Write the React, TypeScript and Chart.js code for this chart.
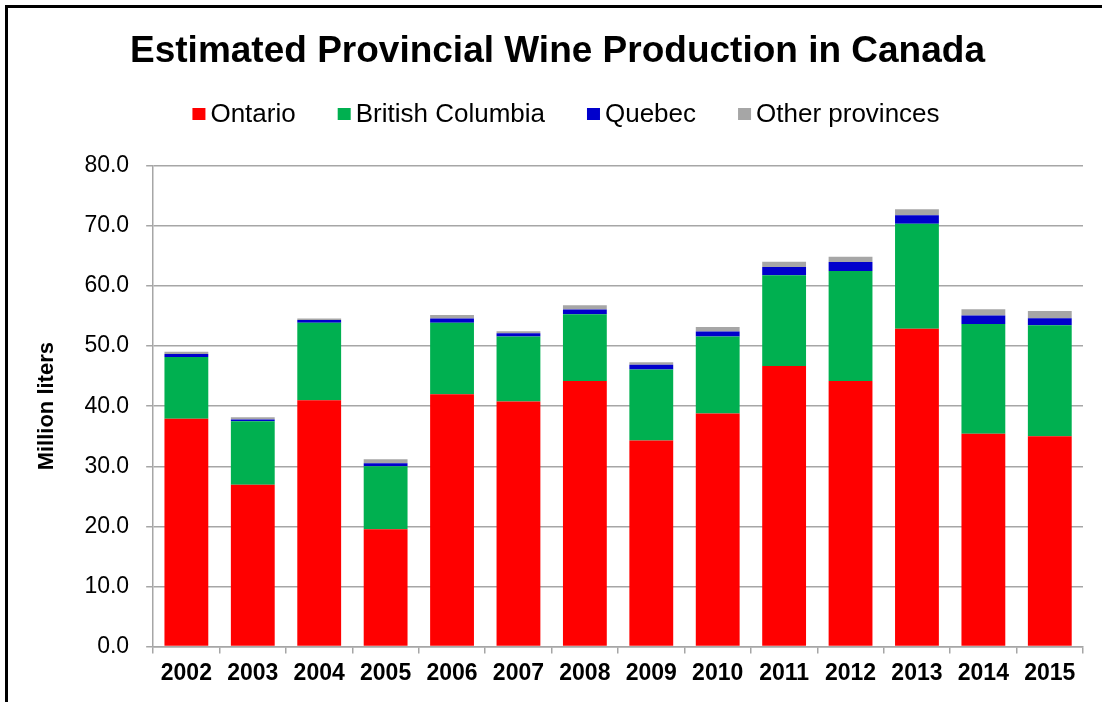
import React, { useEffect, useRef } from "react";
import { Chart, registerables } from "chart.js";

Chart.register(...registerables);

const years = ["2002", "2003", "2004", "2005", "2006", "2007", "2008", "2009", "2010", "2011", "2012", "2013", "2014", "2015"];
const ontario = [37.9, 26.9, 41.0, 19.5, 42.0, 40.8, 44.2, 34.3, 38.8, 46.7, 44.2, 52.9, 35.4, 35.0];
const britishColumbia = [10.3, 10.6, 12.9, 10.5, 11.9, 10.8, 11.1, 11.8, 12.8, 15.1, 18.3, 17.5, 18.3, 18.5];
const quebec = [0.5, 0.3, 0.45, 0.5, 0.7, 0.55, 0.8, 0.8, 0.85, 1.4, 1.5, 1.4, 1.4, 1.15];
const otherProvinces = [0.35, 0.35, 0.25, 0.65, 0.6, 0.35, 0.7, 0.4, 0.75, 0.85, 0.9, 1.0, 1.05, 1.2];
const yTicks = [0, 10, 20, 30, 40, 50, 60, 70, 80];

const FONT = "'Liberation Sans', Arial, sans-serif";
const GRID = "#a6a6a6";

// Custom legend drawn between title and chart area (Excel-like compact spacing)
const legendPlugin = {
  id: "excelLegend",
  afterDraw(chart: any) {
    const ctx = chart.ctx;
    const fontSize = 26;
    const boxW = 13;
    const boxH = 12;
    const gap = 5;
    const spacing = 42;
    const centerX = 566;
    const centerY = 114;
    ctx.save();
    ctx.font = `${fontSize}px ${FONT}`;
    const items = chart.data.datasets.map((d: any) => ({
      label: d.label,
      color: d.backgroundColor,
      w: ctx.measureText(d.label).width,
    }));
    const total =
      items.reduce((s: number, it: any) => s + boxW + gap + it.w, 0) + spacing * (items.length - 1);
    let x = centerX - total / 2;
    ctx.textBaseline = "middle";
    ctx.textAlign = "left";
    for (const it of items) {
      ctx.fillStyle = it.color;
      ctx.fillRect(x, centerY - boxH / 2, boxW, boxH);
      x += boxW + gap;
      ctx.fillStyle = "#000";
      ctx.fillText(it.label, x, centerY + 1);
      x += it.w + spacing;
    }
    ctx.restore();
  },
};

export default function App() {
  const ref = useRef<HTMLCanvasElement | null>(null);

  useEffect(() => {
    document.body.style.margin = "0";
    const canvas = ref.current;
    if (!canvas) return;
    const chart = new Chart(canvas, {
      type: "bar",
      data: {
        labels: years,
        datasets: [
          { label: "Ontario", data: ontario, backgroundColor: "#ff0000" },
          { label: "British Columbia", data: britishColumbia, backgroundColor: "#00b050" },
          { label: "Quebec", data: quebec, backgroundColor: "#0000cc" },
          { label: "Other provinces", data: otherProvinces, backgroundColor: "#a6a6a6" },
        ].map((d) => ({ ...d, borderWidth: 0, barPercentage: 0.66, categoryPercentage: 1 })),
      },
      plugins: [legendPlugin],
      options: {
        animation: false,
        responsive: false,
        maintainAspectRatio: false,
        layout: { padding: { top: 10, left: 32, right: 19, bottom: 9 } },
        plugins: {
          tooltip: { enabled: false },
          legend: { display: false },
          title: {
            display: true,
            text: "Estimated Provincial Wine Production in Canada",
            color: "#000",
            font: { family: FONT, size: 37, weight: "bold" },
            padding: { top: 20, bottom: 91.6 },
          },
        },
        scales: {
          x: {
            stacked: true,
            grid: { display: true, drawOnChartArea: false, drawTicks: true, tickLength: 7, color: GRID, lineWidth: 1.5 },
            border: { display: true, color: GRID, width: 1.5 },
            ticks: { color: "#000", font: { family: FONT, size: 23, weight: "bold" }, padding: 6, maxRotation: 0 },
          },
          y: {
            stacked: true,
            min: 0,
            max: 80,
            afterBuildTicks: (axis: any) => {
              axis.ticks = yTicks.map((v) => ({ value: v }));
            },
            grid: { color: GRID, lineWidth: 1.5, tickLength: 7 },
            border: { display: true, color: GRID, width: 1.5 },
            ticks: {
              color: "#000",
              font: { family: FONT, size: 23 },
              padding: 17,
              callback: (v: any) => Number(v).toFixed(1),
            },
            title: {
              display: true,
              text: "Million liters",
              color: "#000",
              font: { family: FONT, size: 22, weight: "bold" },
              padding: { top: 2, bottom: 7 },
            },
          },
        },
      },
    });
    return () => chart.destroy();
  }, []);

  return (
    <div style={{ position: "relative", width: 1102, height: 702, overflow: "hidden", background: "#fff" }}>
      <canvas ref={ref} width={1102} height={702} style={{ position: "absolute", left: 0, top: 0 }} />
      <div
        style={{
          position: "absolute",
          left: 5,
          top: 5,
          width: 1200,
          height: 800,
          border: "3px solid #000",
          pointerEvents: "none",
        }}
      />
    </div>
  );
}
